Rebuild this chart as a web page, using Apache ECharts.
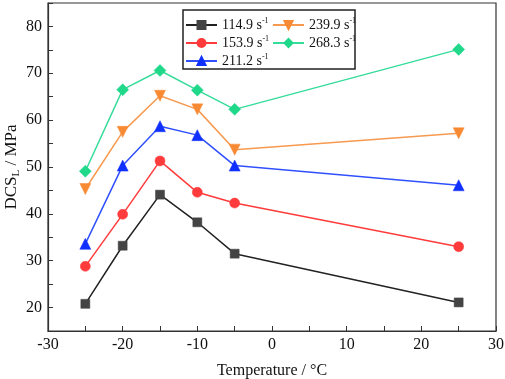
<!DOCTYPE html>
<html>
<head>
<meta charset="utf-8">
<script src="https://cdn.jsdelivr.net/npm/echarts@6/dist/echarts.min.js"></script>
<style>
html, body { margin: 0; padding: 0; background: #fff; }
#chart { width: 505px; height: 379px; }
</style>
</head>
<body>
<div id="chart"></div>
<script>
var temps = [-25, -20, -15, -10, -5, 25];
var rates = ['114.9', '153.9', '211.2', '239.9', '268.3'];
var dcs114 = [20.8, 33.2, 44.1, 38.2, 31.5, 21.1];
var dcs153 = [28.8, 39.9, 51.3, 44.6, 42.3, 33.0];
var dcs211 = [33.6, 50.3, 58.7, 56.8, 50.3, 46.1];
var dcs239 = [45.3, 57.5, 65.2, 62.3, 53.7, 57.2];
var dcs268 = [49.1, 66.5, 70.6, 66.4, 62.3, 75.1];

var myChart = echarts.init(document.getElementById('chart'));

var font = 'Liberation Serif, Times New Roman, serif';

function pairs(vals) {
	var out = [];
	for (var i = 0; i < temps.length; i++) out.push([temps[i], vals[i]]);
	return out;
}

// 每条曲线的样式
var styles = [
	{ data: dcs114, color: '#444444', line: '#222222', symbol: 'rect', size: 9, rotate: 0 },
	{ data: dcs153, color: '#ff3b3b', line: '#ff3b3b', symbol: 'circle', size: 10, rotate: 0 },
	{ data: dcs211, color: '#1030ff', line: '#3050ff', symbol: 'triangle', size: 11, rotate: 0 },
	{ data: dcs239, color: '#f98a34', line: '#f7994f', symbol: 'triangle', size: 11, rotate: 180 },
	{ data: dcs268, color: '#1fd88a', line: '#36dc9a', symbol: 'diamond', size: 12, rotate: 0 }
];

var series = styles.map(function(s, i) {
	return {
		name: rates[i],
		type: 'line',
		data: pairs(s.data),
		symbol: s.symbol,
		symbolSize: s.size,
		symbolRotate: s.rotate,
		showAllSymbol: true,
		lineStyle: { color: s.line, width: 1.5 },
		itemStyle: { color: s.color, borderColor: s.color, borderWidth: 0.5 }
	};
});

var legendText = {
	fontFamily: font,
	fontSize: 14,
	color: '#111',
	rich: {
		a: { fontFamily: font, fontSize: 14, color: '#111', lineHeight: 16 },
		b: { fontFamily: font, fontSize: 8, color: '#111', padding: [0, 0, 8, 0] }
	}
};

function legendBlock(left, names) {
	return {
		orient: 'vertical',
		left: left,
		top: 17,
		itemWidth: 31,
		itemHeight: 10,
		itemGap: 3,
		padding: 0,
		data: names,
		formatter: function(n) { return '{a|' + n + ' s}{b|-1}'; },
		textStyle: legendText
	};
}

var option = {
	animation: false,
	grid: {
		left: 48, right: 9, top: 3, bottom: 48,
		outerBoundsMode: 'none',
		show: true, borderColor: '#333', borderWidth: 1.2
	},
	legend: [
		legendBlock(185, ['114.9', '153.9', '211.2']),
		legendBlock(272, ['239.9', '268.3'])
	],
	graphic: [{
		type: 'rect',
		shape: { x: 183, y: 10, width: 172, height: 59 },
		style: { fill: 'none', stroke: '#222', lineWidth: 1.5 },
		z: 0
	}],
	xAxis: {
		type: 'value',
		min: -30, max: 30, interval: 5,
		name: 'Temperature / °C',
		nameLocation: 'middle',
		nameGap: 32,
		nameMoveOverlap: false,
		nameTextStyle: { fontFamily: font, fontSize: 16, color: '#111' },
		axisLine: { onZero: false, lineStyle: { color: '#333', width: 1.2 } },
		axisTick: { inside: true, length: 5, lineStyle: { color: '#333' } },
		axisLabel: {
			fontFamily: font, fontSize: 16, color: '#111', margin: 6,
			formatter: function(v) { return v % 10 === 0 ? String(v) : ''; }
		},
		splitLine: { show: false }
	},
	yAxis: {
		type: 'value',
		min: 15, max: 85, interval: 5,
		name: '{a|DCS}{b|L}{a| / MPa}',
		nameLocation: 'middle',
		nameGap: 26,
		nameMoveOverlap: false,
		nameTextStyle: {
			fontFamily: font, fontSize: 16, color: '#111',
			rich: {
				a: { fontFamily: font, fontSize: 17, color: '#111' },
				b: { fontFamily: font, fontSize: 11, color: '#111', padding: [10, 0, 0, 0] }
			}
		},
		axisLine: { onZero: false, lineStyle: { color: '#333', width: 1.2 } },
		axisTick: { inside: true, length: 5, lineStyle: { color: '#333' } },
		axisLabel: {
			fontFamily: font, fontSize: 16, color: '#111', margin: 6,
			formatter: function(v) { return v % 10 === 0 ? String(v) : ''; }
		},
		splitLine: { show: false }
	},
	series: series
};
myChart.setOption(option);

window.onresize = function() {
	myChart.resize();
};
</script>
</body>
</html>
